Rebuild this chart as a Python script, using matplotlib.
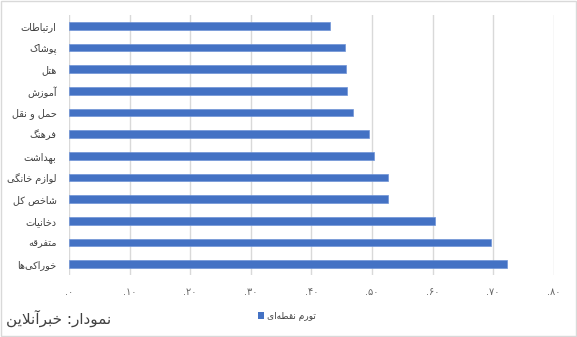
import matplotlib
matplotlib.use("Agg")
import matplotlib.pyplot as plt
from matplotlib.patches import Patch, Rectangle

# Data (top to bottom as in the chart)
categories = ["ارتباطات", "پوشاک", "هتل", "آموزش", "حمل و نقل", "فرهنگ",
              "بهداشت", "لوازم خانگی", "شاخص کل", "دخانیات", "متفرقه", "خوراکی‌ها"]
values = [0.431, 0.456, 0.457, 0.459, 0.469, 0.495,
          0.504, 0.527, 0.527, 0.604, 0.696, 0.723]
ticks = [0.0, 0.1, 0.2, 0.3, 0.4, 0.5, 0.6, 0.7, 0.8]
tick_labels = [".۰", ".۱۰", ".۲۰", ".۳۰", ".۴۰", ".۵۰", ".۶۰", ".۷۰", ".۸۰"]
series_name = "تورم نقطه‌ای"
source = "نمودار: خبرآنلاین"

# Simple Persian shaping (matplotlib has no bidi / joining support)
FORMS = {
    "ا": ("\uFE8D", "\uFE8E", None, None), "آ": ("\uFE81", "\uFE82", None, None),
    "د": ("\uFEA9", "\uFEAA", None, None), "ر": ("\uFEAD", "\uFEAE", None, None),
    "ز": ("\uFEAF", "\uFEB0", None, None), "و": ("\uFEED", "\uFEEE", None, None),
    "ب": ("\uFE8F", "\uFE90", "\uFE91", "\uFE92"), "پ": ("\uFB56", "\uFB57", "\uFB58", "\uFB59"),
    "ت": ("\uFE95", "\uFE96", "\uFE97", "\uFE98"), "ح": ("\uFEA1", "\uFEA2", "\uFEA3", "\uFEA4"),
    "خ": ("\uFEA5", "\uFEA6", "\uFEA7", "\uFEA8"), "ش": ("\uFEB5", "\uFEB6", "\uFEB7", "\uFEB8"),
    "ص": ("\uFEB9", "\uFEBA", "\uFEBB", "\uFEBC"), "ط": ("\uFEC1", "\uFEC2", "\uFEC3", "\uFEC4"),
    "ف": ("\uFED1", "\uFED2", "\uFED3", "\uFED4"), "ق": ("\uFED5", "\uFED6", "\uFED7", "\uFED8"),
    "ک": ("\uFB8E", "\uFB8F", "\uFB90", "\uFB91"), "گ": ("\uFB92", "\uFB93", "\uFB94", "\uFB95"),
    "ل": ("\uFEDD", "\uFEDE", "\uFEDF", "\uFEE0"), "م": ("\uFEE1", "\uFEE2", "\uFEE3", "\uFEE4"),
    "ن": ("\uFEE5", "\uFEE6", "\uFEE7", "\uFEE8"), "ه": ("\uFEE9", "\uFEEA", "\uFEEB", "\uFEEC"),
    "ی": ("\uFBFC", "\uFBFD", "\uFBFE", "\uFBFF"),
}
LAM_ALEF = {"ا": ("\uFEFB", "\uFEFC"), "آ": ("\uFEF5", "\uFEF6")}


def dual(c):
    return c in FORMS and FORMS[c][2] is not None


def fa(text):
    out = []
    i = 0
    n = len(text)
    while i < n:
        c = text[i]
        if c not in FORMS:
            if c != "\u200c":
                out.append(c)
            i += 1
            continue
        prev_join = i > 0 and dual(text[i - 1])
        if c == "ل" and i + 1 < n and text[i + 1] in LAM_ALEF:
            out.append(LAM_ALEF[text[i + 1]][1 if prev_join else 0])
            i += 2
            continue
        next_join = dual(c) and i + 1 < n and text[i + 1] in FORMS
        iso, fin, ini, med = FORMS[c]
        if prev_join and next_join:
            out.append(med)
        elif prev_join:
            out.append(fin)
        elif next_join:
            out.append(ini)
        else:
            out.append(iso)
        i += 1
    return "".join(out)[::-1]


plt.rcParams["font.family"] = ["DejaVu Sans"]

fig = plt.figure(figsize=(5.77, 3.37), dpi=100)
ax = fig.add_axes([0.1196, 0.184, 0.84, 0.7715])

y = list(range(len(categories)))
ax.barh(y, values, height=0.36, color="#4472C4", edgecolor="#6f93d6", linewidth=0.5,
        zorder=3)
ax.set_yticks(y)
ax.set_yticklabels([fa(c) for c in categories], fontsize=7, color="#404040")
ax.set_ylim(len(categories) - 0.5, -0.5)

ax.set_xlim(0, 0.8)
ax.set_xticks(ticks)
ax.set_xticklabels(tick_labels, fontsize=7, color="#666666")
ax.grid(axis="x", color="#d9d9d9", linewidth=1, zorder=0)
ax.tick_params(length=0)
ax.tick_params(axis="x", pad=9)
ax.tick_params(axis="y", pad=9)
for s in ax.spines.values():
    s.set_visible(False)

fig.legend(handles=[Patch(facecolor="#4472C4", label=fa(series_name))],
           loc="center", bbox_to_anchor=(0.497, 0.062), frameon=False,
           fontsize=6.5, handlelength=0.7, handleheight=0.7, handletextpad=0.3,
           labelcolor="#404040")

fig.text(0.01, 0.03, fa(source), fontsize=11, color="#404040", ha="left", va="bottom")

fig.patches.append(Rectangle((0.001, 0.002), 0.997, 0.995, transform=fig.transFigure,
                             fill=False, edgecolor="#d9d9d9", linewidth=1))

fig.savefig("out.png", dpi=100)
